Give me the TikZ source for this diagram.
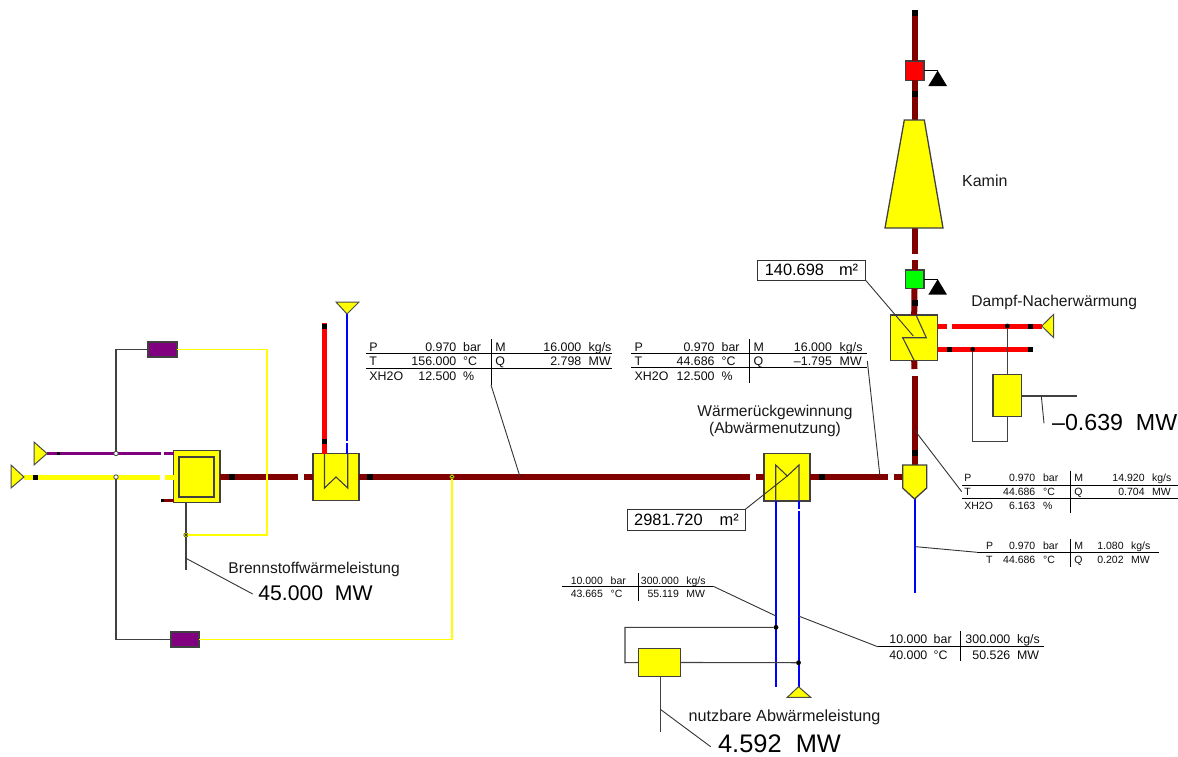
\documentclass[tikz,border=0pt]{standalone}
\usepackage{fontspec}
\setmainfont{Liberation Sans}
\definecolor{fluered}{HTML}{800000}
\definecolor{fuelpurple}{HTML}{800080}
\definecolor{ductgreen}{HTML}{00FF00}
\definecolor{eqyellow}{HTML}{FFFF00}
\definecolor{steamred}{HTML}{FF0000}
\definecolor{waterblue}{HTML}{0000FF}
\tikzset{
 eqbox/.style 2 args={draw=black!75,line width=.65pt,fill=eqyellow,inner sep=0pt,outer sep=0pt,minimum width=#1*.5pt,minimum height=#2*.5pt},
 ctrlbox/.style n args={3}{draw=black!75,line width=.65pt,fill=#3,inner sep=0pt,outer sep=0pt,minimum width=#1*.5pt,minimum height=#2*.5pt},
 areabox/.style 2 args={draw=black!80,line width=.55pt,fill=white,inner sep=0pt,outer sep=0pt,font=\fontsize{8.2}{10}\selectfont,minimum width=#1*.5pt,minimum height=#2*.5pt},
 casing/.style={draw=black!75,line width=.65pt,fill=eqyellow},
 flue/.style={draw=fluered,line width=3pt},
 fuelpipe/.style={draw=eqyellow,line width=2.5pt},
 airpipe/.style={draw=fuelpurple,line width=1.5pt},
 steam/.style={draw=steamred,line width=2.5pt},
 water/.style={draw=waterblue,line width=1pt},
 signal/.style={draw=black!75,line width=.55pt},
 leader/.style={draw=black!80,line width=.45pt},
 rule/.style={draw=black,line width=.5pt},
 hotwire/.style={draw=eqyellow,line width=.55pt},
 port/.style={draw=black!70,line width=.5pt,fill=eqyellow},
 sensor/.style={fill=black},
 pipemark/.style={fill=black,inner sep=0pt,outer sep=0pt,minimum size=#1*.5pt},
 dotn/.style={circle,fill=black,inner sep=0pt,outer sep=0pt,minimum size=2.4pt},
 openn/.style={circle,draw=black!70,line width=.4pt,fill=white,inner sep=0pt,outer sep=0pt,minimum size=2.2pt},
 tapn/.style={circle,draw=black!60!eqyellow,line width=.35pt,fill=eqyellow,inner sep=0pt,outer sep=0pt,minimum size=2.2pt},
 lab/.style={inner sep=0pt,font=\fontsize{7.8}{10}\selectfont,text=black!90},
 biglab/.style={inner sep=0pt,font=\fontsize{#1}{14}\selectfont},
 tabA/.style={inner sep=0pt,font=\fontsize{6.2}{7}\selectfont,text=black!95},
 tabB/.style={inner sep=0pt,font=\fontsize{5.25}{6}\selectfont,text=black!95},
}
% one value with its unit: name, y, x end, value, x unit, unit
\newcommand{\datacell}[6]{\node[anchor=base east] (#1v) at (#3,#2) {#4};\node[anchor=base west] (#1u) at (#5,#2) {#6};}
\begin{document}
\begin{tikzpicture}[x=.5pt,y=-.5pt]
 \useasboundingbox (0,0) rectangle (1178,756);
 % equipment
 \node[eqbox={46.5}{52}] (burner) at (196.75,476.5) {};
 \node[draw=black!75,line width=.65pt,inner sep=0pt,outer sep=0pt,minimum width=17.5pt,minimum height=20pt] (burnerin) at (196.5,477) {};
 \node[eqbox={46}{47}] (hexair) at (336,477.2) {};
 \node[eqbox={46}{47.3}] (hexrec) at (787,477.3) {};
 \node[eqbox={47}{45.7}] (hexreheat) at (914.2,337.8) {};
 \node[eqbox={28.7}{41.6}] (consreheat) at (1007.3,395.5) {};
 \node[eqbox={41.6}{27.6}] (consrec) at (659.5,662.5) {};
 \node[ctrlbox={28.8}{15}{fuelpurple}] (ctrlup) at (162.5,349.5) {};
 \node[ctrlbox={28}{15}{fuelpurple}] (ctrllow) at (185,639.5) {};
 \node[ctrlbox={18.7}{19.3}{steamred}] (fanred) at (914.5,70.6) {};
 \node[ctrlbox={18.7}{18.7}{ductgreen}] (fangreen) at (914.5,279.3) {};
 % named pipe ends
 \coordinate (airport) at (47,453.5);
 \coordinate (fuelport) at (24,477);
 \coordinate (airgapa) at (161,453.5);
 \coordinate (airgapb) at (164,453.5);
 \coordinate (fuelgapa) at (160,477);
 \coordinate (fuelgapb) at (165,477);
 \coordinate (stubend) at (161,500.5);
 \coordinate (maingapa) at (298,476.7);
 \coordinate (maingapb) at (304,476.7);
 \coordinate (maingapc) at (750,476.7);
 \coordinate (maingapd) at (756,476.7);
 \coordinate (maingape) at (888,476.7);
 \coordinate (maingapf) at (894,476.7);
 \coordinate (splitw) at (903,476.7);
 \coordinate (splittop) at (914.5,465);
 \coordinate (splittip) at (914.5,499);
 \coordinate (condend) at (914.5,593);
 \coordinate (risegapa) at (914.5,369);
 \coordinate (risegapb) at (914.5,375.7);
 \coordinate (duct) at (914.5,260);
 \coordinate (ductb) at (914.5,253.5);
 \coordinate (kaminbot) at (914.5,228);
 \coordinate (kamintop) at (914.5,120);
 \coordinate (stacktop) at (914.5,10);
 % flue gas
 \draw[flue] (burner.east |- maingapa) -- (maingapa);
 \draw[flue] (maingapb) -- (hexair.west |- maingapb);
 \draw[flue] (hexair.east |- maingapb) -- (maingapc);
 \draw[flue] (maingapd) -- (hexrec.west |- maingapd);
 \draw[flue] (hexrec.east |- maingape) -- (maingape);
 \draw[flue] (maingapf) -- (splitw);
 \draw[flue] (splittop) -- (risegapb);
 \draw[flue] (risegapa) -- (hexreheat.south);
 \draw[flue] (hexreheat.north) -- (fangreen.south);
 \draw[flue] (fangreen.north) -- (duct);
 \draw[flue] (ductb) -- (kaminbot);
 \draw[flue] (kamintop) -- (fanred.south);
 \draw[flue] (fanred.north) -- (stacktop);
 \draw[draw=fluered,line width=1.5pt] (stubend) -- (burner.west |- stubend);
 % fuel and air
 \draw[airpipe] (airport) -- (airgapa);
 \draw[airpipe] (airgapb) -- (burner.west |- airgapb);
 \draw[fuelpipe] (fuelport) -- (fuelgapa);
 \draw[fuelpipe] (fuelgapb) -- (burner.west |- fuelgapb);
 % steam and water
 \coordinate (redtop) at (324.5,323);
 \coordinate (airwatertip) at (347,314);
 \draw[steam] (redtop) -- (redtop |- hexair.north);
 \draw[water] (airwatertip) -- (347,441) (347,443) -- (347,453.7);
 \draw[water] (splittip) -- (condend);
 \coordinate (bluea) at (776,686.7);
 \coordinate (blueb) at (798.5,686.7);
 \draw[water] (bluea |- hexrec.south) -- (bluea);
 \draw[water] (blueb |- hexrec.south) -- (798.5,509) (798.5,511) -- (blueb);
 \coordinate (redporta) at (1041.7,326);
 \coordinate (redgapa) at (947.3,326);
 \coordinate (redgapb) at (952.3,326);
 \coordinate (redend) at (1032.7,349.3);
 \draw[steam] (hexreheat.east |- redgapa) -- (redgapa);
 \draw[steam] (redgapb) -- (redporta);
 \draw[steam] (hexreheat.east |- redend) -- (redend);
 % casing shapes
 \draw[casing] (885,228) -- (943,228) -- (924.3,120) -- (904.3,120) -- cycle;
 \draw[casing] (902.7,465) -- (926.7,465) -- (926.7,488) -- (914.5,499) -- (902.7,488) -- cycle;
 \draw[port] (34,442) -- (47,453.5) -- (34,465) -- cycle;
 \draw[port] (11,465) -- (24,477) -- (11,488) -- cycle;
 \draw[port] (336,302) -- (359,302) -- (347,314) -- cycle;
 \draw[port] (1041.7,326) -- (1053.7,314.3) -- (1053.7,337.7) -- cycle;
 \draw[port] (787.3,697.3) -- (810.7,697.3) -- (798.5,686.7) -- cycle;
 % inner coils
 \draw[signal] (324.5,453.7) -- (324.5,488) -- (336,477) -- (347.7,488) -- (347.7,453.7);
 \draw[signal] (775.7,501) -- (775.7,465) -- (787.3,476) -- (799,465) -- (799,501);
 \draw[signal] (916,315) -- (926.3,337.7) -- (902.7,337.7) -- (914.3,360.7);
 % sensors on the stack
 \coordinate (trired) at (937.7,70.6);
 \coordinate (trigreen) at (937.7,279.3);
 \draw[signal,draw=black] (fanred.east) -- (trired);
 \draw[signal,draw=black] (fangreen.east) -- (trigreen);
 \fill[sensor] (trired) -- (947,86) -- (928.3,86) -- cycle;
 \fill[sensor] (trigreen) -- (947,294.7) -- (928.3,294.7) -- cycle;
 % junctions and stream marks
 \node[openn] (jair) at (116,453.5) {};
 \node[openn] (jfuel) at (116,477) {};
 \node[tapn] (jburner) at (186,535) {};
 \node[tapn] (jflue) at (452,476.7) {};
 \node[dotn] (jsteama) at (1007.3,326) {};
 \node[dotn] (jsteamb) at (972.7,349.3) {};
 \node[dotn] (jwatera) at (776,627.3) {};
 \node[dotn] (jwaterb) at (798.5,662.7) {};
 \foreach \nm/\px/\py/\sz in {ma/58/453.5/3,mb/35/477/5,mc/232/476.7/6,md/370/476.7/6,me/324.5/326/5,mf/324.5/441.7/5,
   mg/821.7/476.7/6,mh/914.5/453/6,mi/914.5/302.7/6,mj/914.5/94.3/6,mk/914.5/13/6,ml/1030.3/326/5,mm/949.7/349.3/5,mn/1030.3/349.3/5,mo/162.5/500.5/3}
   \node[pipemark=\sz] (\nm) at (\px,\py) {};
 % signal lines
 \coordinate (burnertail) at (186,570);
 \draw[signal] (jair) |- (ctrlup.west);
 \draw[signal] (jfuel) |- (ctrllow.west);
 \draw[signal] (burner.south -| jburner) -- (jburner) -- (burnertail);
 \draw[hotwire] (ctrlup.east) -| (267,535) -- (jburner);
 \draw[hotwire] (ctrllow.east) -| (jflue);
 \node[dotn,minimum size=1.2pt] (jburnerin) at (186,535) {};
 \node[dotn,minimum size=1pt] (jfluein) at (452,476.7) {};
 \draw[signal] (jsteama) -- (consreheat.north);
 \draw[signal] (consreheat.south) |- (972.7,441.7) -- (jsteamb);
 \coordinate (reheatout) at (1076.7,396);
 \draw[signal] (consreheat.east |- reheatout) -- (reheatout);
 \draw[signal] (jwatera) -| (625,662.7) -- (consrec.west);
 \draw[signal] (consrec.east) -- (jwaterb);
 \coordinate (rectail) at (660.3,732.3);
 \draw[signal] (consrec.south -| rectail) -- (rectail);
 % area labels
 \node[areabox={108.4}{20.3}] (areareheat) at (811.5,270.2) {140.698\hspace{7.5pt}m²};
 \node[areabox={117.6}{21}] (arearec) at (686.5,519.8) {2981.720\hspace{8.5pt}m²};
 \coordinate (coilreheat) at (913.3,336);
 \coordinate (coilrec) at (787.3,476);
 \draw[leader] (areareheat.south east) -- (coilreheat);
 \draw[leader] (arearec.north east) -- (coilrec);
 % texts
 \node[lab,anchor=base west,font=\fontsize{8}{10}\selectfont] (kamin) at (961.7,186) {Kamin};
 \node[lab,anchor=base west] (dampf) at (971,306) {Dampf-Nacherwärmung};
 \node[lab,anchor=base] (wrg) at (775,416) {Wärmerückgewinnung};
 \node[lab,anchor=base] (abw) at (775,433) {(Abwärmenutzung)};
 \node[lab,anchor=base west] (bsw) at (228,573) {Brennstoffwärmeleistung};
 \node[lab,anchor=base west,font=\fontsize{8.1}{10}\selectfont] (nutz) at (688.3,721) {nutzbare Abwärmeleistung};
 \node[biglab=10.6,anchor=base west] (pfuel) at (258,600.7) {45.000\ \ MW};
 \node[biglab=11.6,anchor=base west] (preheat) at (1051.7,430) {–0.639\ \ MW};
 \node[biglab=12.7,anchor=base west] (prec) at (717.7,752) {4.592\ \ MW};
 \coordinate (bswa) at (186,558.3);
 \coordinate (bswb) at (252.7,594);
 \draw[leader] (bswa) -- (bswb);
 \coordinate (reheata) at (1041.3,396);
 \coordinate (reheatb) at (1044,423.3);
 \draw[leader] (reheata) -- (reheatb);
 \coordinate (nutza) at (660.3,709.3);
 \coordinate (nutzb) at (710.7,746.7);
 \draw[leader] (nutza) -- (nutzb);
 % stream tables
 \begin{scope}[every node/.append style={tabA}]
  \foreach \nm/\px/\py/\tx in {ap/369/351/P,at/369/365.5/T,ax/369/380/XH2O,am/495/351/M,aq/495/365.5/Q,
    bp/634.3/351/P,bt/634.3/365.5/T,bx/634.3/380/XH2O,bm/753.3/351/M,bq/753.3/365.5/Q}
   \node[anchor=base west] (\nm) at (\px,\py) {\tx};
  \datacell{aa}{351}{456.7}{0.970}{462.7}{bar}
  \datacell{ab}{365.5}{456.7}{156.000}{462.7}{°C}
  \datacell{ac}{380}{456.7}{12.500}{462.7}{\%}
  \datacell{ad}{351}{581.7}{16.000}{588.3}{kg/s}
  \datacell{ae}{365.5}{581.7}{2.798}{588.3}{MW}
  \datacell{ba}{351}{715}{0.970}{721.3}{bar}
  \datacell{bb}{365.5}{715}{44.686}{721.3}{°C}
  \datacell{bc}{380}{715}{12.500}{721.3}{\%}
  \datacell{bd}{351}{832.3}{16.000}{839.3}{kg/s}
  \datacell{be}{365.5}{832.3}{–1.795}{839.3}{MW}
  \datacell{fa}{643.7}{927.7}{10.000}{933.3}{bar}
  \datacell{fb}{659.4}{927.7}{40.000}{933.3}{°C}
  \datacell{fc}{643.7}{1010.7}{300.000}{1016.7}{kg/s}
  \datacell{fd}{659.4}{1010.7}{50.526}{1016.7}{MW}
 \end{scope}
 \begin{scope}[every node/.append style={tabB}]
  \foreach \nm/\px/\py/\tx in {cp/964/481.8/P,ct/964/495.8/T,cx/964/509/XH2O,cm/1074/481.8/M,cq/1074/495.8/Q,
    dp/985.7/549/P,dt/985.7/563/T,dm/1074/549/M,dq/1074/563/Q}
   \node[anchor=base west] (\nm) at (\px,\py) {\tx};
  \datacell{ca}{481.8}{1035.7}{0.970}{1042.7}{bar}
  \datacell{cb}{495.8}{1035.7}{44.686}{1042.7}{°C}
  \datacell{cc}{509}{1035.7}{6.163}{1042.7}{\%}
  \datacell{cd}{481.8}{1145}{14.920}{1151.7}{kg/s}
  \datacell{ce}{495.8}{1145}{0.704}{1151.7}{MW}
  \datacell{da}{549}{1035.7}{0.970}{1042.7}{bar}
  \datacell{db}{563}{1035.7}{44.686}{1042.7}{°C}
  \datacell{dc}{549}{1124}{1.080}{1130.7}{kg/s}
  \datacell{dd}{563}{1124}{0.202}{1130.7}{MW}
  \datacell{ea}{584}{603.3}{10.000}{610.3}{bar}
  \datacell{eb}{597.8}{603.3}{43.665}{610.3}{°C}
  \datacell{ec}{584}{679.3}{300.000}{686}{kg/s}
  \datacell{ed}{597.8}{679.3}{55.119}{686}{MW}
 \end{scope}
 \draw[rule] (366,353.3) -- (611.7,353.3) (366,368.3) -- (611.7,368.3) (491,339.3) -- (491,385);
 \draw[rule] (631.3,353.7) -- (867.3,353.7) (631.3,367.7) -- (867.3,367.7) (749,339.3) -- (749,383.3);
 \draw[rule] (962.3,485.3) -- (1178,485.3) (962.3,498.7) -- (1178,498.7) (1070.7,470.7) -- (1070.7,513.3);
 \draw[rule] (977.3,552.3) -- (1159.3,552.3) (1070.7,538.7) -- (1070.7,566.7);
 \draw[rule] (561.7,586.3) -- (713.3,586.3) (638,573.3) -- (638,601);
 \draw[rule] (877.7,646.7) -- (1044.3,646.7) (960.7,631.3) -- (960.7,661);
 % table leaders
 \coordinate (taba) at (491,385);
 \coordinate (tabafl) at (520,476.7);
 \coordinate (tabb) at (867.3,361);
 \coordinate (tabbfl) at (880,476.7);
 \coordinate (tabc) at (961.7,491.7);
 \coordinate (tabcfl) at (914.5,430);
 \coordinate (tabd) at (977.3,552.3);
 \coordinate (tabdfl) at (916,546.7);
 \coordinate (tabe) at (713.3,586.3);
 \coordinate (tabefl) at (776,616);
 \coordinate (tabf) at (877.7,646.7);
 \coordinate (tabffl) at (798.5,616);
 \draw[leader] (taba) -- (tabafl);
 \draw[leader] (tabb) -- (tabbfl);
 \draw[leader] (tabc) -- (tabcfl);
 \draw[leader] (tabd) -- (tabdfl);
 \draw[leader] (tabe) -- (tabefl);
 \draw[leader] (tabf) -- (tabffl);
\end{tikzpicture}
\end{document}
